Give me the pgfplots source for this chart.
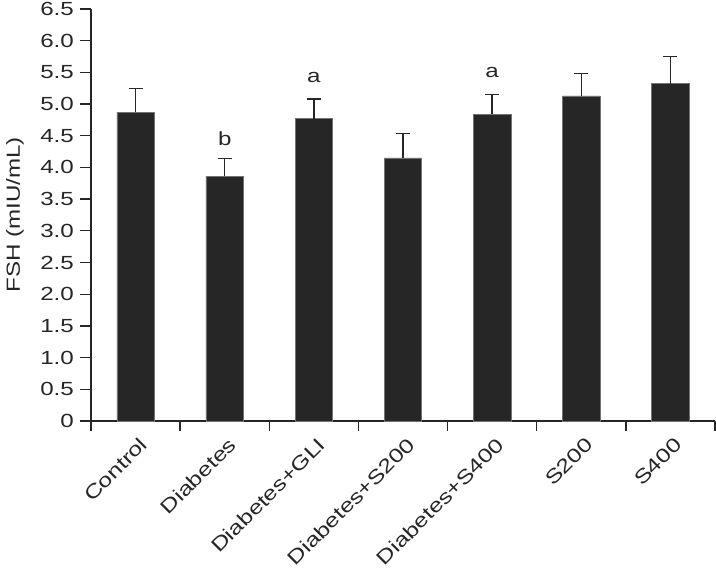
\documentclass[border=0pt]{standalone}
\usepackage{pgfplots}
\pgfplotsset{compat=1.18}
\usepackage{fontspec}
\setmainfont{Liberation Sans}[FakeStretch=1.27]
\definecolor{barc}{HTML}{262626}
\pgfplotstableread{
x y e
0 4.87 0.38
1 3.86 0.28
2 4.77 0.31
3 4.15 0.39
4 4.84 0.31
5 5.13 0.35
6 5.32 0.43
}\fsh
\newcommand\lf{\fontsize{19}{22}\selectfont}
\newcommand\xf{\fontsize{19.5}{23}\selectfont}
\begin{document}
\begin{tikzpicture}
\begin{axis}[
  name=ax,
  scale only axis, width=624pt, height=412pt,
  xmin=-0.5, xmax=6.5, ymin=0, ymax=6.5,
  axis x line*=bottom, axis y line*=left,
  axis line style={line width=1.3pt, barc},
  ybar, bar width=0.42,
  tick align=outside,
  ytick={0,0.5,...,6.5},
  yticklabels={0,0.5,1.0,1.5,2.0,2.5,3.0,3.5,4.0,4.5,5.0,5.5,6.0,6.5},
  major tick length=11pt,
  y tick style={line width=1.3pt, barc},
  xtick={0,...,6},
  xticklabels={Control,Diabetes,Diabetes+GLI,Diabetes+S200,Diabetes+S400,S200,S400},
  x tick style={draw=none},
  minor xtick={-0.5,0.5,...,6.5},
  minor tick length=10pt,
  minor x tick style={draw=barc, line width=1.3pt},
  y tick label style={font=\lf, text=barc, inner sep=0pt, xshift=-6pt},
  x tick label style={font=\xf, text=barc, xshift=3pt, yshift=-4pt, rotate=45, anchor=north east, inner sep=0pt},
  ylabel={FSH (mIU/mL)},
  every axis y label/.style={at={(rel axis cs:0,0.5)}, xshift=-76pt, rotate=90, anchor=center, font=\lf, text=barc, inner sep=0pt},
  clip=false,
]
\addplot[fill=barc, draw=black!55, line width=0.6pt,
  error bars/.cd, y dir=plus, y explicit,
  error bar style={line width=1.3pt, barc, solid},
  error mark options={rotate=90, mark size=7pt, line width=1.3pt, barc}]
  table[x=x, y=y, y error=e]{\fsh};
\node[font=\lf, text=barc] at (axis cs:1,4.45) {b};
\node[font=\lf, text=barc] at (axis cs:2,5.42) {a};
\node[font=\lf, text=barc] at (axis cs:4,5.50) {a};
\end{axis}
\pgfresetboundingbox
\path ([xshift=-91pt,yshift=-147pt]ax.south west) rectangle ([xshift=1pt,yshift=9pt]ax.north east);
\end{tikzpicture}
\end{document}
